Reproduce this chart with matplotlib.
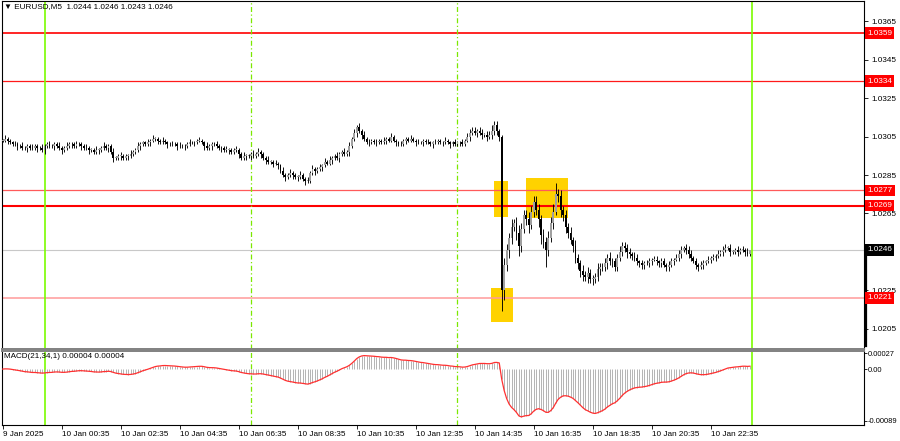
import matplotlib.pyplot as plt
import matplotlib.transforms as mtransforms
from matplotlib.patches import Rectangle
import numpy as np
import pandas as pd

plt.rcParams['font.family'] = ['Liberation Sans', 'DejaVu Sans']

# =========================
# DATA  (EURUSD M5, 9 Jan 22:35 -> 10 Jan 23:55)
# prices below are in pips above 1.0200
# =========================
BASE = 1.0200
PIP = 0.0001

first_open = 103
closes = [
    103, 104, 103, 102, 101, 101, 100, 100, 99, 99,
    100, 99, 99, 100, 99, 99, 98, 100, 101, 100,
    100, 101, 100, 99, 98, 99, 100, 101, 101, 100,
    101, 101, 100, 99, 99, 98, 98, 97, 98, 98,
    99, 100, 99, 100, 97, 94, 94, 95, 95, 94,
    95, 95, 96, 97, 98, 100, 101, 102, 101, 102,
    103, 104, 104, 103, 102, 103, 102, 101, 101, 101,
    101, 100, 100, 100, 100, 101, 102, 102, 102, 103,
    103, 102, 100, 99, 100, 101, 101, 100, 99, 99,
    98, 98, 98, 97, 98, 98, 96, 94, 95, 95,
    95, 96, 95, 96, 97, 96, 94, 93, 92, 92,
    91, 91, 90, 87, 85, 84, 85, 86, 85, 84,
    84, 85, 83, 82, 82, 86, 88, 87, 88, 89,
    90, 92, 91, 93, 94, 95, 94, 96, 97, 96,
    97, 100, 104, 107, 110, 108, 106, 104, 102, 102,
    103, 102, 102, 103, 102, 103, 104, 103, 105, 103,
    102, 101, 101, 103, 104, 103, 104, 103, 102, 102,
    102, 103, 102, 102, 101, 102, 102, 103, 102, 102,
    103, 102, 101, 102, 101, 102, 102, 101, 103, 105,
    107, 108, 107, 108, 107, 106, 106, 105, 106, 108,
    111, 108, 105, 25, 38, 46, 52, 58, 60, 55,
    48, 57, 64, 62, 59, 66, 71, 67, 62, 54,
    50, 46, 52, 60, 66, 75, 74, 67, 64, 58,
    55, 51, 48, 42, 39, 35, 33, 32, 34, 31,
    31, 32, 36, 37, 37, 39, 42, 40, 40, 37,
    42, 45, 48, 47, 45, 44, 43, 42, 40, 39,
    38, 39, 39, 40, 41, 41, 40, 39, 40, 38,
    37, 38, 40, 41, 42, 44, 46, 47, 46, 44,
    42, 40, 38, 37, 38, 39, 40, 41, 42, 42,
    43, 44, 45, 46, 47, 47, 45, 45, 46, 45,
    46, 46, 45, 44, 46,
]

# upper / lower wick lengths (pips)
wick_up = [
    1, 2, 1, 1, 1, 2, 1, 1, 2, 1,
    1, 1, 2, 1, 1, 1, 2, 1, 1, 2,
    1, 1, 1, 2, 1, 1, 2, 1, 1, 1,
    2, 1, 1, 1, 2, 1, 1, 1, 2, 1,
    1, 2, 1, 1, 1, 2, 1, 1, 2, 1,
    1, 1, 2, 1, 1, 2, 1, 1, 1, 2,
    1, 2, 1, 1, 1, 2, 1, 1, 1, 2,
    1, 1, 2, 1, 1, 1, 2, 1, 1, 1,
    2, 1, 1, 2, 1, 1, 1, 2, 1, 1,
    1, 2, 1, 1, 1, 2, 1, 1, 2, 1,
    1, 1, 2, 1, 2, 1, 1, 1, 2, 1,
    1, 2, 1, 1, 2, 1, 1, 2, 1, 1,
    1, 2, 1, 1, 2, 1, 2, 1, 1, 2,
    1, 2, 1, 2, 1, 1, 2, 1, 1, 2,
    1, 2, 1, 2, 1, 2, 1, 2, 1, 2,
    1, 1, 2, 1, 1, 2, 1, 1, 2, 1,
    1, 1, 2, 1, 1, 1, 2, 1, 1, 2,
    1, 1, 1, 2, 1, 1, 2, 1, 1, 1,
    2, 1, 1, 1, 2, 1, 1, 2, 1, 2,
    2, 2, 2, 1, 2, 2, 1, 2, 2, 3,
    2, 2, 1, 1, 4, 3, 3, 4, 2, 3,
    4, 3, 3, 3, 4, 3, 3, 3, 3, 2,
    3, 3, 4, 3, 4, 6, 3, 3, 2, 3,
    2, 3, 2, 3, 2, 2, 3, 2, 3, 2,
    2, 2, 3, 2, 2, 3, 2, 3, 2, 2,
    2, 3, 2, 2, 2, 2, 1, 2, 2, 1,
    2, 1, 2, 2, 1, 2, 2, 1, 2, 2,
    1, 2, 2, 1, 2, 2, 2, 1, 2, 2,
    2, 1, 2, 1, 2, 2, 1, 2, 1, 2,
    1, 2, 1, 2, 2, 1, 2, 1, 1, 2,
    1, 2, 1, 2, 0,
]
wick_dn = [
    1, 1, 2, 1, 1, 1, 2, 1, 1, 1,
    2, 1, 1, 1, 2, 1, 1, 2, 1, 1,
    1, 2, 1, 1, 2, 1, 1, 1, 2, 1,
    1, 1, 2, 1, 1, 2, 1, 1, 1, 2,
    1, 1, 1, 2, 1, 2, 1, 1, 2, 1,
    1, 2, 1, 1, 1, 1, 2, 1, 1, 1,
    2, 1, 1, 2, 1, 1, 1, 2, 1, 1,
    1, 2, 1, 1, 2, 1, 1, 1, 2, 1,
    1, 1, 2, 1, 1, 2, 1, 1, 1, 2,
    1, 1, 2, 1, 1, 1, 2, 1, 1, 2,
    1, 2, 1, 1, 1, 2, 1, 2, 1, 1,
    2, 1, 2, 1, 1, 2, 1, 1, 2, 1,
    2, 1, 1, 2, 1, 1, 1, 2, 1, 1,
    2, 1, 1, 1, 2, 1, 1, 2, 1, 1,
    1, 2, 1, 1, 2, 1, 2, 1, 1, 2,
    1, 1, 2, 1, 1, 1, 2, 1, 1, 1,
    2, 1, 1, 1, 2, 1, 1, 1, 2, 1,
    1, 2, 1, 1, 1, 2, 1, 1, 1, 2,
    1, 1, 2, 1, 1, 1, 2, 1, 1, 1,
    2, 1, 1, 2, 1, 2, 1, 2, 1, 2,
    2, 2, 2, 11, 5, 3, 4, 3, 2, 4,
    5, 3, 2, 3, 4, 2, 3, 3, 4, 5,
    3, 9, 3, 2, 3, 2, 3, 4, 3, 3,
    3, 2, 3, 3, 3, 3, 3, 2, 3, 2,
    3, 2, 2, 3, 2, 2, 3, 2, 3, 2,
    2, 2, 2, 2, 3, 2, 2, 2, 2, 2,
    2, 2, 1, 2, 2, 1, 2, 2, 2, 1,
    2, 2, 1, 2, 1, 2, 2, 1, 2, 2,
    2, 1, 2, 2, 1, 2, 1, 1, 2, 1,
    2, 1, 1, 2, 1, 1, 2, 1, 1, 2,
    1, 1, 2, 1, 1,
]
assert len(closes) == len(wick_up) == len(wick_dn) == 305

# horizontal levels
level_prices = [1.0359, 1.0334, 1.0277, 1.0269, 1.0221]
last_price = 1.0246

# day / session separators (bar index)
day_lines = [17, 305]
session_lines = [101, 185]

# highlighted zones: (bar from, bar to, price low, price high)
zones = [
    (199.9, 205.6, 1.02632, 1.02819),
    (212.8, 229.9, 1.02626, 1.02835),
    (198.8, 207.8, 1.02085, 1.02262),
]

price_ticks = [1.0365, 1.0345, 1.0325, 1.0305, 1.0285, 1.0265, 1.0225, 1.0205]
time_ticks = [0, 24, 48, 72, 96, 120, 144, 168, 192, 216, 240, 264, 288]
time_labels = ["9 Jan 2025", "10 Jan 00:35", "10 Jan 02:35", "10 Jan 04:35",
               "10 Jan 06:35", "10 Jan 08:35", "10 Jan 10:35", "10 Jan 12:35",
               "10 Jan 14:35", "10 Jan 16:35", "10 Jan 18:35", "10 Jan 20:35",
               "10 Jan 22:35"]
macd_ticks = [0.00027, 0.0, -0.00089]
macd_tick_labels = ["0.00027", "0.00", "-0.00089"]

# =========================
# build OHLC + MACD(21,34,1)
# =========================
x = np.arange(len(closes))
close = BASE + np.array(closes) * PIP
open_ = np.r_[BASE + first_open * PIP, close[:-1]]
high = np.maximum(open_, close) + np.array(wick_up) * PIP
low = np.minimum(open_, close) - np.array(wick_dn) * PIP

s = pd.Series(close)
macd = (s.ewm(span=21, adjust=False).mean() - s.ewm(span=34, adjust=False).mean()).values

# =========================
# FIGURE
# =========================
FS = 5.9
fig = plt.figure(figsize=(9, 4.41), dpi=100)
ax = fig.add_axes([2 / 900, 92 / 441, 862 / 900, 348 / 441])
ax2 = fig.add_axes([2 / 900, 16 / 441, 862 / 900, 74 / 441])

xlim = (-0.3, 350.4)

# zones behind everything
for x0, x1, p0, p1 in zones:
    ax.add_patch(Rectangle((x0, p0), x1 - x0, p1 - p0, color='#ffd200', zorder=1, lw=0))

ax.axhline(last_price, color='#c8c8c8', lw=0.8, zorder=1.5)
level_colors = ['#ff0000', '#ff1a1a', '#ff5a5a', '#ff0000', '#ff9a9a']
level_widths = [1.2, 0.9, 0.9, 1.5, 1.1]
for p, c, w in zip(level_prices, level_colors, level_widths):
    ax.axhline(p, color=c, lw=w, zorder=2)

for a in (ax, ax2):
    for d in day_lines:
        a.axvline(d, color='#7cfc00', lw=1.2, zorder=2.5)
    for d in session_lines:
        a.axvline(d, color='#7ce800', lw=0.9, ls=(0, (4, 2, 1, 2)), zorder=2.5)

# candles
bull = close >= open_
body_lo = np.minimum(open_, close)
body_h = np.maximum(np.abs(close - open_), 0.000035)
ax.vlines(x, low, high, color='black', lw=0.65, zorder=3)
ax.bar(x[bull], body_h[bull], bottom=body_lo[bull], width=0.75, color='#a0a0a0',
       edgecolor='none', zorder=4)
ax.bar(x[~bull], body_h[~bull], bottom=body_lo[~bull], width=0.75, color='black',
       edgecolor='none', zorder=4)

ax.set_xlim(*xlim)
ax.set_ylim(1.019442, 1.037567)
ax.set_xticks([])
ax.yaxis.tick_right()
ax.set_yticks(price_ticks)
ax.set_yticklabels([f"{p:.4f}" for p in price_ticks])
ax.tick_params(axis='y', labelsize=FS, length=3, width=0.6, pad=2, colors='black')

# price labels on the right
trans = mtransforms.blended_transform_factory(ax.transAxes, ax.transData)
for p in level_prices:
    ax.text(1.004, p, f"{p:.4f}", transform=trans, fontsize=FS, color='white', va='center',
            ha='left', zorder=10, clip_on=False,
            bbox=dict(boxstyle='square,pad=0.25', fc='#ff0000', ec='none'))
ax.text(1.004, last_price, f"{last_price:.4f}", transform=trans, fontsize=FS, color='white',
        va='center', ha='left', zorder=10, clip_on=False,
        bbox=dict(boxstyle='square,pad=0.25', fc='black', ec='none'))
ax.plot([1.002, 1.002], [last_price, 1.0196], transform=trans, color='black', lw=1.6,
        clip_on=False, zorder=9)

for sp in ['left', 'right', 'top']:
    ax.spines[sp].set_linewidth(0.8)
ax.spines['bottom'].set_color('#808080')
ax.spines['bottom'].set_linewidth(1.4)

# MACD panel
ax2.vlines(x, 0, macd, color='#b4b4b4', lw=0.7, zorder=3)
ax2.plot(x, macd, color='#ff3030', lw=0.9, zorder=4)
ax2.set_xlim(*xlim)
ax2.set_ylim(-0.00096, 0.00031)
ax2.yaxis.tick_right()
ax2.set_yticks(macd_ticks)
ax2.set_yticklabels(macd_tick_labels)
ax2.tick_params(axis='y', labelsize=5.4, length=2, width=0.6, pad=1)
ax2.set_xticks(time_ticks)
ax2.set_xticklabels(time_labels)
ax2.tick_params(axis='x', labelsize=FS, length=3, width=0.6, pad=1.5)
for lbl in ax2.get_xticklabels():
    lbl.set_ha('left')
for sp in ['left', 'right', 'bottom']:
    ax2.spines[sp].set_linewidth(0.8)
ax2.spines['top'].set_color('#808080')
ax2.spines['top'].set_linewidth(1.4)

fig.text(4 / 900, 1 - 7 / 441, "\u25bc EURUSD,M5  1.0244 1.0246 1.0243 1.0246",
         fontsize=FS, va='center', ha='left')
fig.text(4 / 900, 1 - 357 / 441, "MACD(21,34,1) 0.00004 0.00004",
         fontsize=FS, va='center', ha='left')

fig.savefig("out.png", dpi=100)
